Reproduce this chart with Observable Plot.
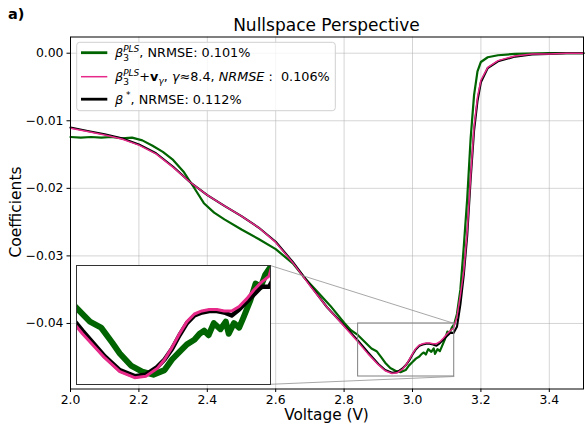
<!DOCTYPE html>
<html><head><meta charset="utf-8">
<script src="https://cdn.jsdelivr.net/npm/d3@7"></script>
<script src="https://cdn.jsdelivr.net/npm/@observablehq/plot@0.6"></script>
<style>
body{margin:0;background:#fff;}
#wrap{position:relative;width:586px;height:426px;overflow:hidden;background:#fff;font-family:"DejaVu Sans",sans-serif;}
text{white-space:pre;}
</style></head><body><div id="wrap"></div>
<script>
// ---- data ----
const vSmooth = [2.00,2.05,2.10,2.15,2.20,2.25,2.30,2.35,2.40,2.45,2.50,2.55,2.60,2.65,2.70,2.75,2.80,2.84,2.87,2.90,2.92,2.94,2.955,2.97,2.98,2.99,3.00,3.01,3.02,3.03,3.04,3.05,3.06,3.07,3.08,3.09,3.10,3.11,3.12,3.13,3.14,3.15,3.16,3.17,3.18,3.19,3.20,3.22,3.25,3.30,3.35,3.40,3.45,3.50];
const betaStar = [-0.0110,-0.0115,-0.0120,-0.0126,-0.0135,-0.0148,-0.0168,-0.0191,-0.0210,-0.0226,-0.0241,-0.0258,-0.0279,-0.0309,-0.0343,-0.0376,-0.0403,-0.0425,-0.0443,-0.0460,-0.0469,-0.0473,-0.0472,-0.0467,-0.0462,-0.0455,-0.0446,-0.0438,-0.0433,-0.0431,-0.0430,-0.0430,-0.0431,-0.0433,-0.0429,-0.0424,-0.0419,-0.0414,-0.0414,-0.0405,-0.0372,-0.0328,-0.0270,-0.0187,-0.0115,-0.0071,-0.0043,-0.0022,-0.0012,-0.0005,-0.0002,-0.0001,0.0000,0.0000];
const betaNull = [-0.0111,-0.0116,-0.0121,-0.0127,-0.0136,-0.0149,-0.0169,-0.0191,-0.0210,-0.0226,-0.0241,-0.0258,-0.0280,-0.0310,-0.0344,-0.0376,-0.0404,-0.0427,-0.0445,-0.0461,-0.0470,-0.0474,-0.0473,-0.0468,-0.0462,-0.0454,-0.0445,-0.0437,-0.0432,-0.0430,-0.0429,-0.0429,-0.0430,-0.0430,-0.0427,-0.0422,-0.0416,-0.0411,-0.0407,-0.0390,-0.0358,-0.0322,-0.0263,-0.0182,-0.0108,-0.0065,-0.0040,-0.0021,-0.0011,-0.0004,-0.0001,-0.0001,0.0000,0.0000];
const vGreen = [2.00,2.03,2.06,2.09,2.12,2.15,2.18,2.21,2.24,2.27,2.30,2.33,2.36,2.39,2.42,2.45,2.50,2.55,2.60,2.65,2.68,2.72,2.76,2.80,2.82,2.84,2.86,2.88,2.895,2.91,2.92,2.935,2.95,2.965,2.98,2.99,3.00,3.01,3.02,3.027,3.033,3.039,3.046,3.055,3.062,3.066,3.073,3.08,3.086,3.095,3.102,3.109,3.115,3.122,3.13,3.14,3.15,3.16,3.17,3.18,3.19,3.20,3.22,3.25,3.30,3.40,3.50];
const betaPLS = [-0.0124,-0.0125,-0.0124,-0.0125,-0.0124,-0.0126,-0.0125,-0.0129,-0.0137,-0.0146,-0.0158,-0.0175,-0.0198,-0.0222,-0.0236,-0.0246,-0.0261,-0.0275,-0.0290,-0.0311,-0.0330,-0.0352,-0.0374,-0.0399,-0.0410,-0.0417,-0.0427,-0.0437,-0.0441,-0.0451,-0.0458,-0.0466,-0.0470,-0.0472,-0.0469,-0.0462,-0.0457,-0.0452,-0.0449,-0.0445,-0.0443,-0.0446,-0.0438,-0.0442,-0.0437,-0.0445,-0.0438,-0.0441,-0.0434,-0.0423,-0.0412,-0.0414,-0.0406,-0.0401,-0.0386,-0.0350,-0.0286,-0.0215,-0.0126,-0.0062,-0.0027,-0.0013,-0.0006,-0.0003,-0.0001,0.0000,0.0000];

const xTicks = [2.0,2.2,2.4,2.6,2.8,3.0,3.2,3.4];
const yTicks = [0.00,-0.01,-0.02,-0.03,-0.04];
const xDomain = [2.0,3.5];
const yDomain = [-0.0497,0.0024];
const zoomX = [2.841,3.122];
const zoomY = [-0.04785,-0.0400];
const insetX = [2.862,3.122];
const insetBoxX = [2.018,2.586];
const insetBoxY = [-0.0490,-0.03145];
const colors = {pls:"#006400", nulls:"#e7298a", star:"#000000"};
const titleText = "Nullspace Perspective";
const panelTag = "a)";
const xLabel = "Voltage (V)";
const yLabel = "Coefficients";

// ---- build ----
const wrap = document.getElementById("wrap");
const rows = (xs, ys) => xs.map((v,i)=>({v, c: ys[i]}));
const greenData = rows(vGreen, betaPLS);
const pinkData = rows(vSmooth, betaNull);
const blackData = rows(vSmooth, betaStar);
const zoomBox = [{x1: zoomX[0], x2: zoomX[1], y1: zoomY[0], y2: zoomY[1]}];
const connectors = [
  {x1: insetBoxX[1], y1: insetBoxY[1], x2: zoomX[1], y2: zoomY[1]},
  {x1: insetBoxX[1], y1: insetBoxY[0], x2: zoomX[1], y2: zoomY[0]}
];

const main = Plot.plot({
  width: 586, height: 426,
  marginLeft: 70, marginRight: 3, marginTop: 36.5, marginBottom: 37.5,
  style: {fontFamily: "DejaVu Sans", fontSize: "12.4px", background: "transparent", color: "black", overflow: "visible"},
  x: {domain: xDomain, ticks: xTicks, tickFormat: d3.format(".1f"), tickSize: 3.5, tickPadding: 3, label: null},
  y: {domain: yDomain, ticks: yTicks, tickFormat: d3.format(".2f"), tickSize: 3.5, tickPadding: 3.5, label: null},
  marks: [
    Plot.ruleX(xTicks, {stroke: "#b0b0b0", strokeOpacity: 0.6, strokeWidth: 0.9}),
    Plot.ruleY(yTicks, {stroke: "#b0b0b0", strokeOpacity: 0.6, strokeWidth: 0.9}),
    Plot.line(greenData, {x: "v", y: "c", stroke: colors.pls, strokeWidth: 2.2}),
    Plot.line(blackData, {x: "v", y: "c", stroke: colors.star, strokeWidth: 2.1}),
    Plot.line(pinkData, {x: "v", y: "c", stroke: colors.nulls, strokeWidth: 1.5}),
    Plot.rect(zoomBox, {x1: "x1", x2: "x2", y1: "y1", y2: "y2", fill: "none", stroke: "#808080", strokeWidth: 1}),
    Plot.link(connectors, {x1: "x1", y1: "y1", x2: "x2", y2: "y2", stroke: "#909090", strokeWidth: 0.8}),
    Plot.frame({stroke: "black", strokeWidth: 1})
  ]
});
wrap.appendChild(main);

const svg = d3.select(main);
// titles / labels
svg.append("text").attr("x", 326.5).attr("y", 30.5).attr("text-anchor", "middle")
  .style("font-size", "17px").style("font-family", "DejaVu Sans").text(titleText);
svg.append("text").attr("x", 8).attr("y", 19).attr("text-anchor", "start").style("font-size", "14.5px").style("font-weight", "bold")
  .style("font-family", "DejaVu Sans").text(panelTag);
svg.append("text").attr("x", 326.5).attr("y", 420).attr("text-anchor", "middle")
  .style("font-size", "15.3px").style("font-family", "DejaVu Sans").text(xLabel);
svg.append("text").attr("transform", "translate(20.5,212) rotate(-90)").attr("text-anchor", "middle")
  .style("font-size", "15.5px").style("font-family", "DejaVu Sans").text(yLabel);

// legend
const FS = 12.8, SFS = 9;
const lg = svg.append("g").attr("text-anchor", "start").style("font-family", "DejaVu Sans").style("font-size", FS + "px");
lg.append("rect").attr("x", 76.7).attr("y", 42.3).attr("width", 258.6).attr("height", 68.4)
  .attr("rx", 3).attr("fill", "white").attr("fill-opacity", 0.8).attr("stroke", "#d0d0d0").attr("stroke-width", 1);
const legendItems = [
  {color: colors.pls, w: 2.8, y: 52.7, base: 57.3},
  {color: colors.nulls, w: 1.5, y: 76.7, base: 81.3},
  {color: colors.star, w: 2.8, y: 99.2, base: 104.0}
];
legendItems.forEach(d => lg.append("line").attr("x1", 81).attr("x2", 107.3).attr("y1", d.y).attr("y2", d.y)
  .attr("stroke", d.color).attr("stroke-width", d.w));

function addText(g, x, y, s) {
  const t = g.append("text").attr("x", x).attr("y", y + (s.dy || 0)).attr("text-anchor", "start")
    .style("font-size", (s.size || FS) + "px")
    .style("font-style", s.it ? "italic" : "normal")
    .style("font-weight", s.bold ? "bold" : "normal")
    .text(s.t);
  return t.node().getComputedTextLength();
}
function addRow(g, x, y, segs) {
  let cx = x;
  for (const s of segs) {
    if (s.stack) {
      let w = 0;
      for (const p of s.stack) w = Math.max(w, addText(g, cx, y, p));
      cx += w;
    } else {
      cx += addText(g, cx, y, s);
    }
  }
}
const betaPLSLabel = [{t: "β", it: true}, {stack: [{t: "PLS", it: true, size: SFS, dy: -5.6}, {t: "3", size: SFS, dy: 3.6}]}];
addRow(lg, 115, legendItems[0].base, [...betaPLSLabel, {t: ", NRMSE: 0.101%"}]);
addRow(lg, 115, legendItems[1].base, [...betaPLSLabel, {t: "+"}, {t: "v", bold: true}, {t: "γ", it: true, size: SFS, dy: 2.8},
  {t: ", "}, {t: "γ", it: true}, {t: "≈"}, {t: "8.4, "}, {t: "NRMSE", it: true}, {t: " :  0.106%"}]);
addRow(lg, 115, legendItems[2].base, [{t: "β", it: true}, {t: " *", size: SFS, dy: -5.6}, {t: ", NRMSE: 0.112%"}]);

// inset
const sx = main.scale("x"), sy = main.scale("y");
const L = Math.round(sx.apply(insetBoxX[0])), R = Math.round(sx.apply(insetBoxX[1]));
const T = Math.round(sy.apply(insetBoxY[1])), B = Math.round(sy.apply(insetBoxY[0]));
const inset = Plot.plot({
  width: R - L + 2, height: B - T + 2, margin: 1,
  style: {background: "transparent", overflow: "visible"},
  x: {domain: insetX, axis: null},
  y: {domain: zoomY, axis: null},
  marks: [
    Plot.frame({fill: "white"}),
    Plot.line(greenData, {x: "v", y: "c", stroke: colors.pls, strokeWidth: 6, clip: true}),
    Plot.line(blackData, {x: "v", y: "c", stroke: colors.star, strokeWidth: 4.5, clip: true}),
    Plot.line(pinkData, {x: "v", y: "c", stroke: colors.nulls, strokeWidth: 3, clip: true}),
    Plot.frame({stroke: "#333", strokeWidth: 1})
  ]
});
inset.style.position = "absolute";
inset.style.left = (L - 1) + "px";
inset.style.top = (T - 1) + "px";
wrap.appendChild(inset);
</script></body></html>
